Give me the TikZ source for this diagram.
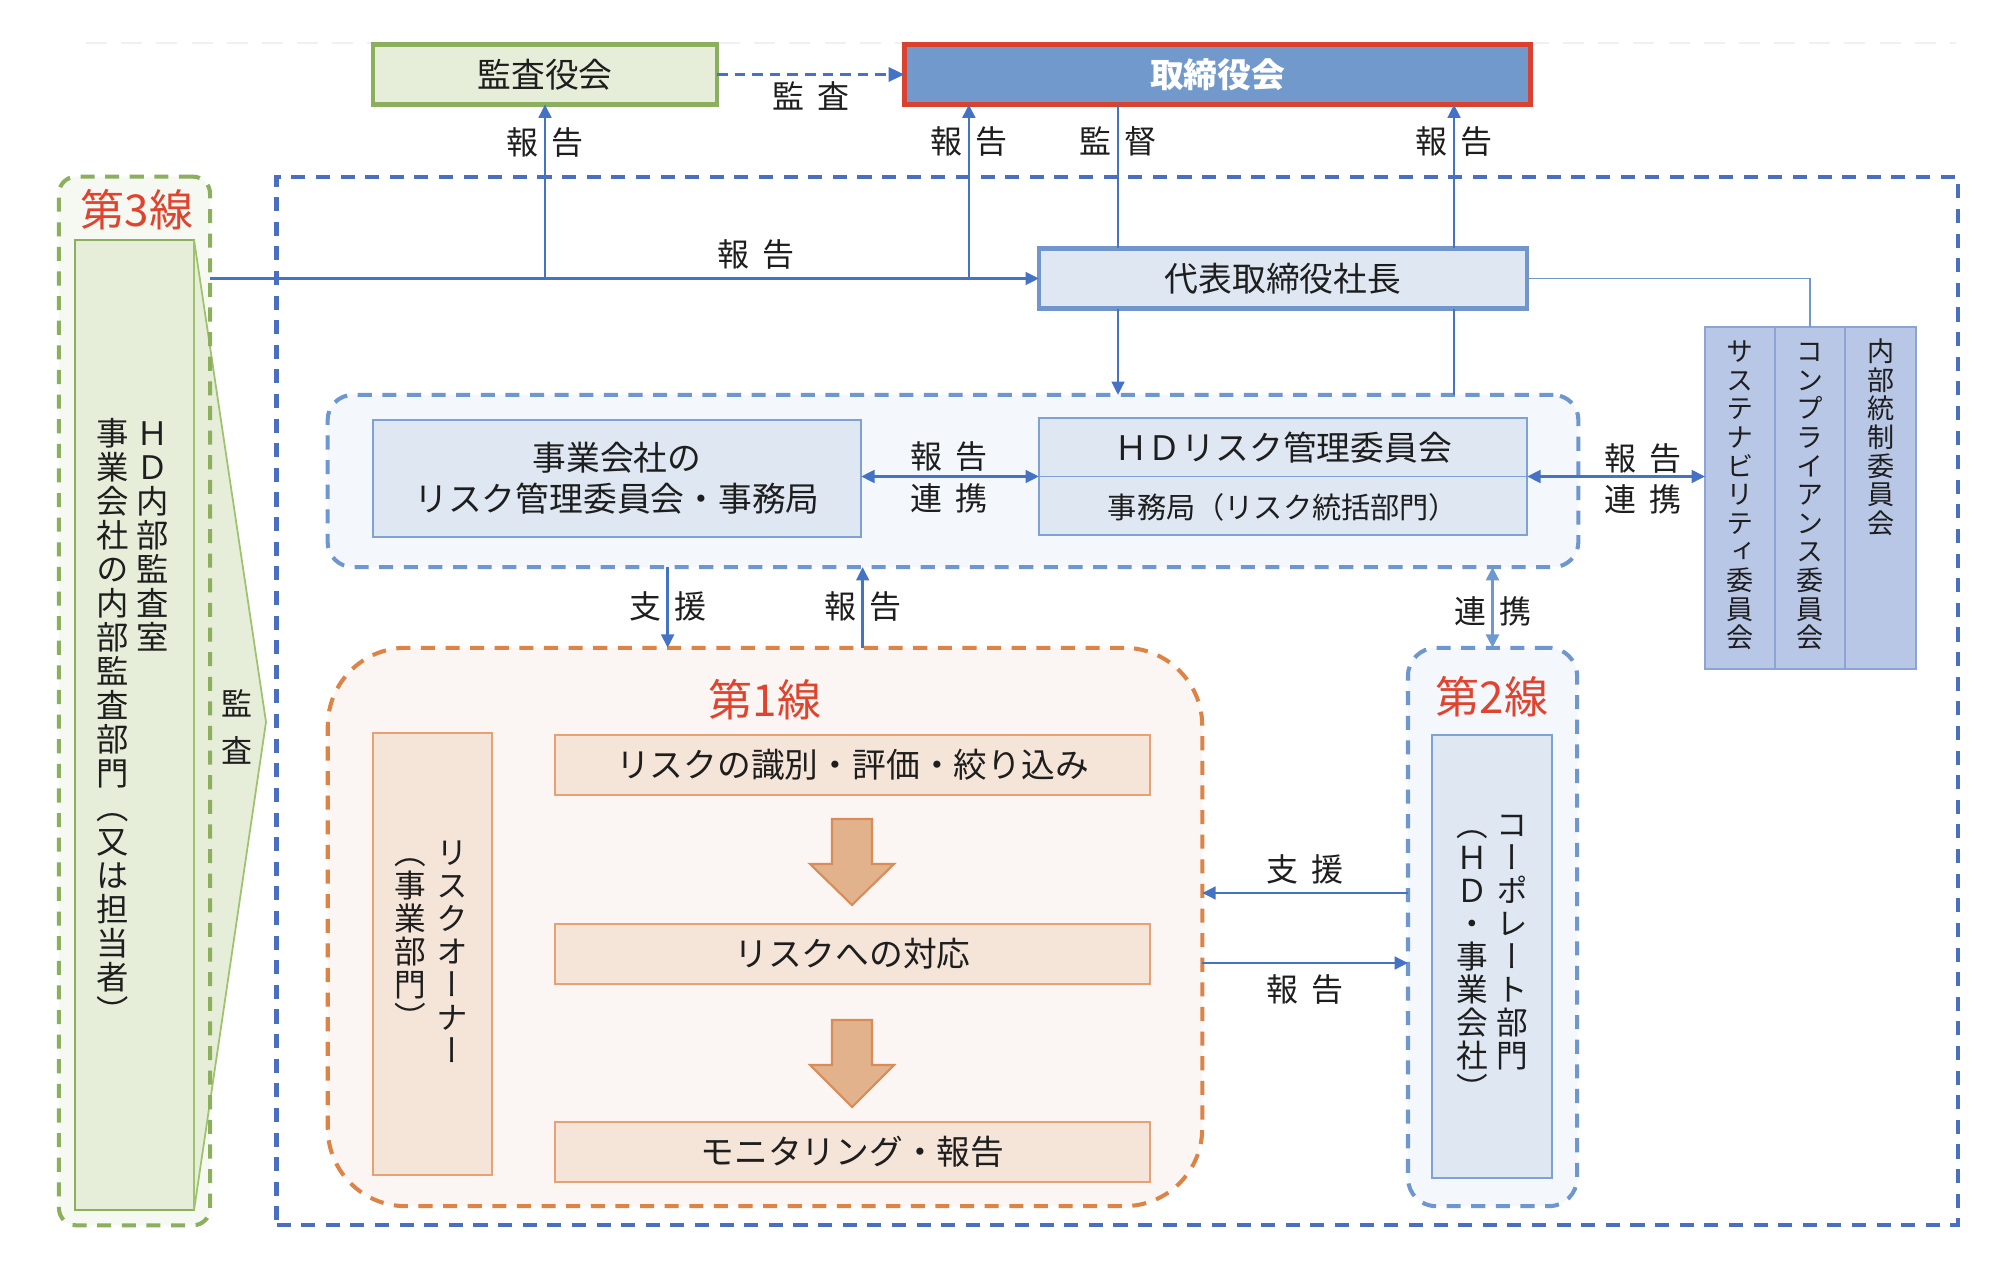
\documentclass[tikz,border=0pt]{standalone}
\usepackage{fontspec}
\setmainfont{Noto Sans CJK JP}
\newfontfamily\vfont[RawFeature=+vert]{Noto Sans CJK JP}
\usetikzlibrary{arrows.meta}
\definecolor{lineblue}{HTML}{4472C4}
\definecolor{outerblue}{HTML}{4A6FC0}
\definecolor{grpblue}{HTML}{6F97CF}
\definecolor{grpfill}{HTML}{F4F7FC}
\definecolor{boxfill}{HTML}{DFE7F3}
\definecolor{boxdraw}{HTML}{7FA2D6}
\definecolor{dhdraw}{HTML}{7096CC}
\definecolor{torifill}{HTML}{7199CC}
\definecolor{torired}{HTML}{D9422E}
\definecolor{kgreen}{HTML}{8BAF5C}
\definecolor{kgreenfill}{HTML}{E6EEDA}
\definecolor{chevdraw}{HTML}{9DC46C}
\definecolor{gthreefill}{HTML}{F6F9F2}
\definecolor{orng}{HTML}{DB8446}
\definecolor{gonefill}{HTML}{FBF6F3}
\definecolor{obox}{HTML}{F5E5D8}
\definecolor{oboxdraw}{HTML}{E6A274}
\definecolor{arrfill}{HTML}{E2B28C}
\definecolor{arrdraw}{HTML}{D98C58}
\definecolor{comfill}{HTML}{B8C7E5}
\definecolor{comdraw}{HTML}{8BA4D4}
\definecolor{redtxt}{HTML}{E0432E}
\definecolor{txt}{HTML}{1E1E1E}
\definecolor{faint}{HTML}{EEF0F4}
\definecolor{linkblue}{HTML}{6C9AD0}

\newdimen\vpitch
\makeatletter
\newcommand\vcol[1]{\vtop{\offinterlineskip\@tfor\vc@c:=#1\do{\hbox to\vpitch{\hss\vc@c\hss\vrule height .86\vpitch depth .14\vpitch width 0pt}}}}
\makeatother
\newcommand\lb[2]{#1\hspace{3.6pt}#2}

\begin{document}
\begin{tikzpicture}[x=0.01cm,y=-0.01cm,
  every node/.style={inner sep=0pt,outer sep=0pt,text=txt},
  lbl/.style={font=\fontsize{9.1pt}{11pt}\selectfont},
  bigred/.style={font=\fontsize{12.5pt}{14pt}\selectfont, text=redtxt},
  boxtext/.style={font=\fontsize{9.6pt}{11.7pt}\selectfont},
  conn/.style={draw=lineblue, line width=0.75pt},
  arr/.style={conn, -{Triangle[length=3.8pt,width=3.6pt]}},
  darr/.style={conn, {Triangle[length=3.8pt,width=3.6pt]}-{Triangle[length=3.8pt,width=3.6pt]}},
  linkarr/.style={draw=linkblue, line width=1pt, {Triangle[length=3.8pt,width=3.6pt]}-{Triangle[length=3.8pt,width=3.6pt]}},
  dasharr/.style={draw=lineblue, line width=0.9pt, dash pattern=on 3pt off 2pt, -{Triangle[length=4.5pt,width=4pt]}},
  thinconn/.style={draw=dhdraw, line width=0.45pt},
  bigdash/.style={line width=1.15pt, dash pattern=on 4pt off 3pt},
  lightbox/.style={draw=boxdraw, line width=0.5pt, fill=boxfill},
  orbox/.style={draw=oboxdraw, line width=0.6pt, fill=obox},
  combox/.style={draw=comdraw, line width=0.5pt, fill=comfill},
  blockarr/.style={fill=arrfill, draw=arrdraw, line width=0.6pt}
]
\useasboundingbox[fill=white] (0,0) rectangle (2016,1274);

% faint top guide
\draw[draw=faint, line width=0.6pt, dash pattern=on 6pt off 4pt] (86,43) -- (1956,43);

% outer blue dashed frame
\node[draw=outerblue, bigdash, minimum width=16.80cm, minimum height=10.48cm] (outer) at (1117,701) {};

% ---- third line group ----
\node[fill=gthreefill, rounded corners=0.17cm, minimum width=1.51cm, minimum height=10.48cm] (g3) at (134.5,701) {};
\node[draw=kgreen, line width=0.5pt, fill=kgreenfill, minimum width=1.19cm, minimum height=9.70cm] (g3in) at (134.5,725) {};
\draw[fill=kgreenfill, draw=chevdraw, line width=0.5pt] (g3in.north east) -- (266,722) -- (g3in.south east) -- cycle;
\node[draw=kgreen, bigdash, rounded corners=0.17cm, minimum width=1.51cm, minimum height=10.48cm] (g3b) at (g3) {};
\node[bigred] (t3) at (137,210) {第3線};
\node[anchor=north] (g3txt) at (133,416) {\fontsize{9.2pt}{9.2pt}\selectfont\vfont\vpitch=0.34cm\vcol{事業会社の内部監査部門（又は担当者）}\hspace{0.06cm}\vcol{ＨＤ内部監査室}};
\node (chevtxt) at (237,722) {\fontsize{8.8pt}{8.8pt}\selectfont\vfont\vpitch=0.47cm\vcol{監査}};

% ---- top boxes ----
\node[draw=kgreen, line width=1.2pt, fill=kgreenfill, boxtext, minimum width=3.44cm, minimum height=0.60cm] (kansa) at (545,74.5) {監査役会};
\node[draw=torired, line width=1.4pt, fill=torifill, boxtext, text=white, minimum width=6.26cm, minimum height=0.60cm] (tori) at (1217.5,74.5) {\bfseries 取締役会};
\node[draw=dhdraw, line width=1.2pt, fill=boxfill, boxtext, minimum width=4.88cm, minimum height=0.60cm] (daihyo) at (1283,278.5) {代表取締役社長};

% ---- HD risk group ----
\node[draw=grpblue, fill=grpfill, bigdash, rounded corners=0.25cm, minimum width=12.50cm, minimum height=1.72cm] (hdgrp) at (953,481) {};
\node[lightbox, boxtext, align=center, minimum width=4.88cm, minimum height=1.17cm] (jigyo) at (617,478.5) {事業会社の\\リスク管理委員会・事務局};
\node[lightbox, minimum width=4.88cm, minimum height=1.17cm] (hdbox) at (1283,476.5) {};
\draw[draw=boxdraw, line width=0.5pt] (hdbox.west) -- (hdbox.east);
\node[boxtext] (hdtop) at (1283,448) {ＨＤリスク管理委員会};
\node[font=\fontsize{8.3pt}{10pt}\selectfont] (hdbot) at (1283,507) {事務局（リスク統括部門）};

% ---- committees ----
\node[combox, minimum width=0.70cm, minimum height=3.42cm] (com1) at (1740,498) {};
\node[combox, minimum width=0.70cm, minimum height=3.42cm] (com2) at (1810,498) {};
\node[combox, minimum width=0.71cm, minimum height=3.42cm] (com3) at (1880.5,498) {};
\node[anchor=north] (com1t) at (1740,337) {\fontsize{7.7pt}{7.7pt}\selectfont\vfont\vpitch=0.286cm\vcol{サステナビリティ委員会}};
\node[anchor=north] (com2t) at (1810,337) {\fontsize{7.7pt}{7.7pt}\selectfont\vfont\vpitch=0.286cm\vcol{コンプライアンス委員会}};
\node[anchor=north] (com3t) at (1881,337) {\fontsize{7.7pt}{7.7pt}\selectfont\vfont\vpitch=0.286cm\vcol{内部統制委員会}};

% ---- first line group ----
\node[draw=orng, fill=gonefill, bigdash, rounded corners=0.78cm, minimum width=8.74cm, minimum height=5.58cm] (g1) at (765,927) {};
\node[bigred] (t1) at (765,700) {第1線};
\node[orbox, minimum width=1.19cm, minimum height=4.42cm] (owner) at (432.5,954) {};
\node[anchor=north] (ownert) at (431,836) {\fontsize{9pt}{9pt}\selectfont\vfont\vpitch=0.33cm\vcol{（事業部門）}\hspace{0.09cm}\vcol{リスクオーナー}};
\node[orbox, boxtext, minimum width=5.95cm, minimum height=0.60cm] (st1) at (852.5,765) {リスクの識別・評価・絞り込み};
\node[orbox, boxtext, minimum width=5.95cm, minimum height=0.60cm] (st2) at (852.5,954) {リスクへの対応};
\node[orbox, boxtext, minimum width=5.95cm, minimum height=0.60cm] (st3) at (852.5,1152) {モニタリング・報告};
\draw[blockarr] (832,819) -- (872,819) -- (872,864) -- (894,864) -- (852,905) -- (810,864) -- (832,864) -- cycle;
\draw[blockarr] (832,1020) -- (872,1020) -- (872,1065) -- (894,1065) -- (852,1107) -- (810,1065) -- (832,1065) -- cycle;

% ---- second line group ----
\node[draw=grpblue, fill=grpfill, bigdash, rounded corners=0.28cm, minimum width=1.69cm, minimum height=5.58cm] (g2) at (1492.5,927) {};
\node[bigred] (t2) at (1492,697) {第2線};
\node[lightbox, minimum width=1.20cm, minimum height=4.43cm] (corp) at (1492,956.5) {};
\node[anchor=north] (corpt) at (1492,808) {\fontsize{9pt}{9pt}\selectfont\vfont\vpitch=0.33cm\vcol{（ＨＤ・事業会社）}\hspace{0.07cm}\vcol{コーポレート部門}};

% ---- connectors ----
\draw[dasharr] (kansa.east) -- (tori.west);
\coordinate (jA) at (kansa.south |- daihyo.west);
\draw[arr] (g3.east |- daihyo.west) -- (daihyo.west);
\draw[arr] (jA) -- (kansa.south);
\path (daihyo.west) ++(-70,0) coordinate (jB);
\draw[arr] (jB) -- (jB |- tori.south);
\path (daihyo.north) ++(-165,0) coordinate (sA);
\draw[conn] (sA |- tori.south) -- (sA);
\draw[arr] (sA |- daihyo.south) -- (sA |- hdgrp.north);
\path (daihyo.north) ++(171,0) coordinate (rA);
\draw[arr] (rA) -- (rA |- tori.south);
\draw[conn] (rA |- hdgrp.north) -- (rA |- daihyo.south);
\draw[thinconn] (daihyo.east) -| (com2.north);
\draw[darr] (jigyo.east |- hdbox.west) -- (hdbox.west);
\draw[darr] (hdbox.east) -- (hdbox.east -| com1.west);
\path (hdgrp.south west) ++(340,0) coordinate (sB);
\draw[arr] (sB) -- (sB |- g1.north);
\path (hdgrp.south west) ++(535,0) coordinate (rB);
\draw[arr] (rB |- g1.north) -- (rB);
\draw[linkarr] (g2.north |- hdgrp.south) -- (g2.north);
\path (g2.west) ++(0,-34) coordinate (sC);
\draw[arr] (sC) -- (sC -| g1.east);
\path (g2.west) ++(0,36) coordinate (rC);
\draw[arr] (rC -| g1.east) -- (rC);

% ---- connector labels ----
\node[lbl] (l1) at (545,142) {\lb{報}{告}};
\node[lbl] (l2) at (811,96) {\lb{監}{査}};
\node[lbl] (l3) at (969,141) {\lb{報}{告}};
\node[lbl] (l4) at (1118,141) {\lb{監}{督}};
\node[lbl] (l5) at (1454,141) {\lb{報}{告}};
\node[lbl] (l6) at (756,254) {\lb{報}{告}};
\node[lbl] (l7) at (949,456) {\lb{報}{告}};
\node[lbl] (l8) at (949,498) {\lb{連}{携}};
\node[lbl] (l9) at (1643,458) {\lb{報}{告}};
\node[lbl] (l10) at (1643,499) {\lb{連}{携}};
\node[lbl] (l11) at (668,606) {\lb{支}{援}};
\node[lbl] (l12) at (863,606) {\lb{報}{告}};
\node[lbl] (l13) at (1493,611) {\lb{連}{携}};
\node[lbl] (l14) at (1305,869) {\lb{支}{援}};
\node[lbl] (l15) at (1305,989) {\lb{報}{告}};
\end{tikzpicture}
\end{document}
